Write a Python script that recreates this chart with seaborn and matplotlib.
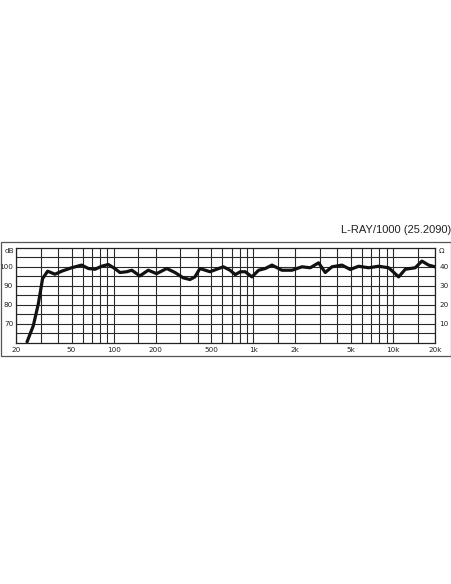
import matplotlib
matplotlib.use("Agg")
import matplotlib.pyplot as plt
import matplotlib.patches as patches
from matplotlib.ticker import FixedLocator, NullFormatter
import pandas as pd
import seaborn as sns

# frequency response
freq_hz = [24, 26.6, 28.9, 31, 33.7, 38, 42.5, 50, 59, 66, 73.6, 82, 91.6,
           102, 111, 124, 135, 154, 177, 203, 240, 275, 315, 352, 382, 415,
           490, 610, 681, 743, 807, 875, 978, 1092, 1218, 1361, 1604, 1890,
           2230, 2558, 2935, 3275, 3658, 4315, 4946, 5678, 6698, 7892, 9311,
           10990, 12250, 14430, 16120, 18000, 20000]
level_db = [60.6, 69.1, 80.6, 93.9, 97.8, 96.2, 97.8, 99.6, 101.0, 99.2, 98.8,
            100.4, 101.3, 99.2, 97.1, 97.5, 98.3, 95.3, 98.3, 96.5, 99.2, 97.1,
            94.3, 93.4, 94.8, 99.2, 97.5, 100.1, 98.3, 96.0, 97.5, 97.5, 94.8,
            98.3, 99.2, 101.0, 98.3, 98.3, 100.1, 99.6, 102.2, 97.1, 100.1,
            101.0, 98.7, 100.4, 99.6, 100.4, 99.6, 94.8, 98.8, 99.6, 103.1,
            101.0, 100.1]

grid_freqs = [30, 40, 50, 60, 70, 80, 90, 100, 150, 200, 300, 400, 500, 600,
              700, 800, 900, 1000, 1500, 2000, 3000, 4000, 5000, 6000, 7000,
              8000, 9000, 10000, 15000]
label_freqs = [20, 50, 100, 200, 500, 1000, 2000, 5000, 10000, 20000]
label_text = ["20", "50", "100", "200", "500", "1k", "2k", "5k", "10k", "20k"]
grid_db = [65, 75, 85, 95, 105]
db_ticks = [70, 80, 90, 100]
ohm_labels = ["10", "20", "30", "40"]

df = pd.DataFrame({"freq": freq_hz, "db": level_db})

sns.set_style("white")
plt.rcParams["font.family"] = ["DejaVu Sans"]

fig = plt.figure(figsize=(4.52, 5.84), dpi=100)
ax = fig.add_axes([16 / 452, 1 - 343 / 584, 419 / 452, 95 / 584])

sns.lineplot(data=df, x="freq", y="db", ax=ax, color="#111111", lw=2.3,
             solid_capstyle="round", solid_joinstyle="round")

ax.set_xscale("log")
ax.set_xlim(20, 20000)
ax.set_ylim(60, 110)

ax.xaxis.set_major_locator(FixedLocator(label_freqs))
ax.set_xticklabels(label_text)
ax.xaxis.set_minor_locator(FixedLocator(grid_freqs))
ax.xaxis.set_minor_formatter(NullFormatter())
ax.set_yticks(db_ticks)
ax.set_yticks(grid_db, minor=True)
ax.yaxis.set_minor_formatter(NullFormatter())

ax.grid(True, which="both", color="#2a2a2a", lw=0.8)
ax.tick_params(which="both", length=0, labelsize=5.2, colors="#222222")
ax.tick_params(axis="x", pad=3)
ax.tick_params(axis="y", pad=2)
ax.set_xlabel("")
ax.set_ylabel("")
for s in ax.spines.values():
    s.set_color("#222222")
    s.set_linewidth(0.9)

ax2 = ax.twinx()
ax2.set_ylim(60, 110)
ax2.set_yticks(db_ticks)
ax2.set_yticklabels(ohm_labels)
ax2.tick_params(length=0, labelsize=5.2, colors="#222222", pad=3)
for s in ax2.spines.values():
    s.set_visible(False)

ax.text(-0.004, 108.3, "dB", transform=ax.get_yaxis_transform(), ha="right",
        va="center", fontsize=5.2, color="#222222")
ax.text(1.009, 108.5, "Ω", transform=ax.get_yaxis_transform(), ha="left",
        va="center", fontsize=5.2, color="#222222")

frame = patches.Rectangle((1 / 452, 1 - 355.5 / 584), 450 / 452, 113 / 584,
                          transform=fig.transFigure, fill=False,
                          ec="#555555", lw=0.9)
fig.patches.append(frame)

fig.text(451 / 452, 1 - 230 / 584, "L-RAY/1000 (25.2090)", ha="right",
         va="center", fontsize=8, family="Liberation Sans", color="#222222")

fig.savefig("out.png", dpi=100)
